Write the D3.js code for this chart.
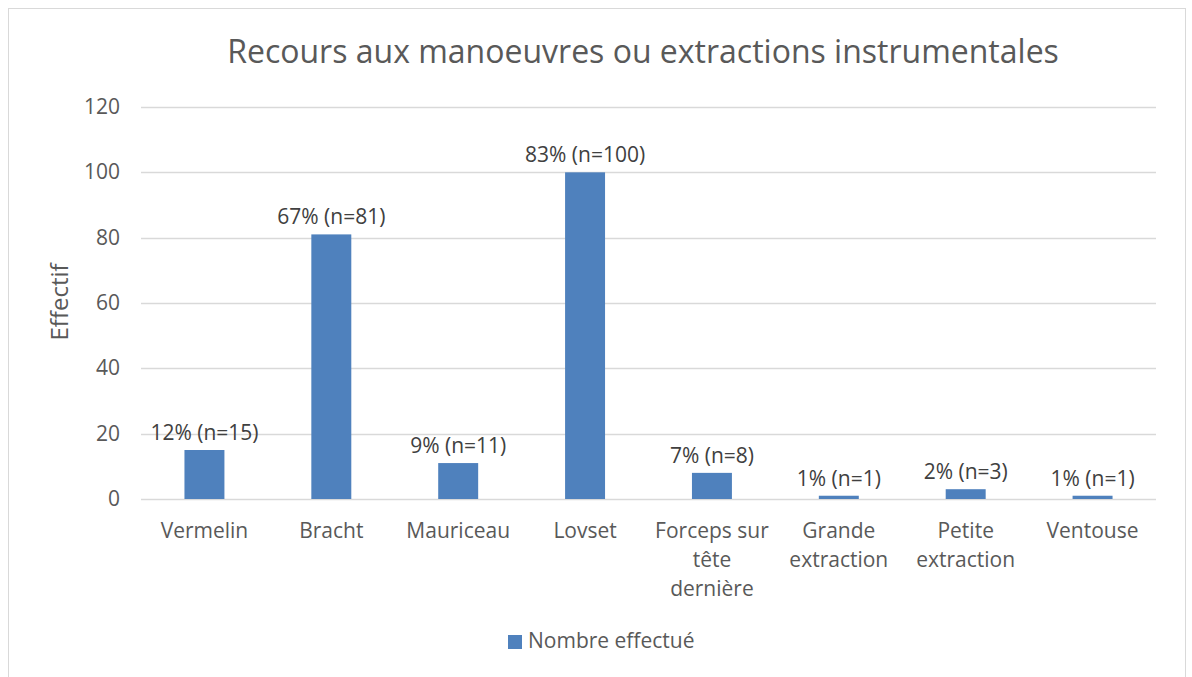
<!DOCTYPE html>
<html><head><meta charset="utf-8">
<script src="https://cdn.jsdelivr.net/npm/d3@7"></script>
<style>body{margin:0;background:#fff}svg{display:block}text{font-family:"Open Sans",Lato,sans-serif}</style>
</head><body><svg id="c" width="1192" height="677"></svg>
<script>
const categories = [["Vermelin"],["Bracht"],["Mauriceau"],["Lovset"],["Forceps sur","tête","dernière"],["Grande","extraction"],["Petite","extraction"],["Ventouse"]];
const values = [15,81,11,100,8,1,3,1];
const labels = ["12% (n=15)","67% (n=81)","9% (n=11)","83% (n=100)","7% (n=8)","1% (n=1)","2% (n=3)","1% (n=1)"];
const yTicks = [0,20,40,60,80,100,120];
const title = "Recours aux manoeuvres ou extractions instrumentales";
const seriesName = "Nombre effectué";
const yTitle = "Effectif";

const svg = d3.select("#c");
const color = "#4f81bd";
svg.append("rect").attr("x",8.5).attr("y",8.5).attr("width",1177).attr("height",700).attr("fill","#fff").attr("stroke","#d9d9d9");

const x = d3.scaleBand().domain(d3.range(categories.length)).range([141,1156]).padding(0);
const y = d3.scaleLinear().domain([0,120]).range([499,107]);

svg.append("text").attr("x",643).attr("y",63).attr("text-anchor","middle").attr("font-size",32).attr("fill","#595959").text(title);

const g = svg.append("g");
g.selectAll("line.grid").data(yTicks).join("line").attr("class","grid")
 .attr("x1",141).attr("x2",1156).attr("y1",d=>Math.round(y(d))+0.5).attr("y2",d=>Math.round(y(d))+0.5)
 .attr("stroke","#d9d9d9").attr("stroke-width",1.5);
g.selectAll("text.yt").data(yTicks).join("text").attr("class","yt")
 .attr("x",120).attr("y",d=>y(d)+7).attr("text-anchor","end").attr("font-size",21).attr("fill","#595959").text(d=>d);

const bw = x.bandwidth()*0.315;
g.selectAll("rect.bar").data(values).join("rect").attr("class","bar")
 .attr("x",(d,i)=>x(i)+x.bandwidth()/2-bw/2).attr("width",bw)
 .attr("y",d=>y(d)).attr("height",d=>y(0)-y(d)).attr("fill",color);

g.selectAll("text.dl").data(values).join("text").attr("class","dl")
 .attr("x",(d,i)=>x(i)+x.bandwidth()/2).attr("y",d=>y(d)-10).attr("text-anchor","middle")
 .attr("font-size",21).attr("fill","#404040").text((d,i)=>labels[i]);

categories.forEach((lines,i)=>{
  const t = g.append("text").attr("x",x(i)+x.bandwidth()/2).attr("y",538).attr("text-anchor","middle").attr("font-size",21).attr("fill","#595959");
  lines.forEach((l,j)=>t.append("tspan").attr("x",x(i)+x.bandwidth()/2).attr("dy",j?29:0).text(l));
});

svg.append("text").attr("transform","translate(68,302) rotate(-90)").attr("text-anchor","middle").attr("font-size",24).attr("fill","#595959").text(yTitle);

svg.append("rect").attr("x",508).attr("y",635).attr("width",14).attr("height",14).attr("fill",color);
svg.append("text").attr("x",528).attr("y",648).attr("font-size",21).attr("fill","#595959").text(seriesName);
</script></body></html>
